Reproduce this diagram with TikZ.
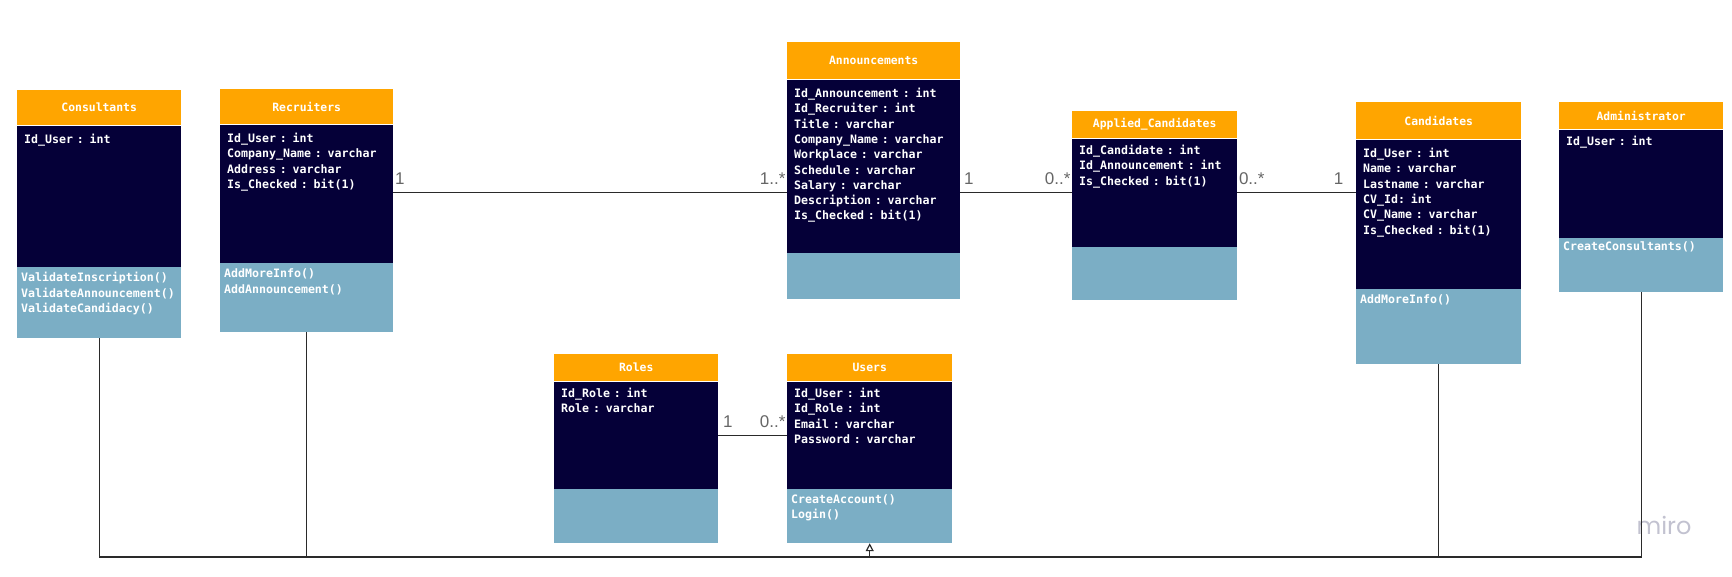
\documentclass[tikz,border=0pt]{standalone}
\usepackage{xcolor}
\usepackage{fontspec}
\setmonofont{DejaVu Sans Mono}
\newfontfamily\multfont{Liberation Sans}
\newfontfamily\mirofont{Poppins}
\usepackage{tikz}
\usetikzlibrary{arrows.meta,calc,positioning}
\definecolor{headorange}{HTML}{FFA500}
\definecolor{attrnavy}{HTML}{050038}
\definecolor{opsblue}{HTML}{7BAEC5}
\definecolor{linegray}{HTML}{2A2A2A}
\definecolor{multgray}{HTML}{666666}
\definecolor{mirogray}{HTML}{C2C2D0}
\tikzstyle{head} = [rectangle, fill=headorange, text=white, inner sep=0pt, anchor=north west,
  font={\ttfamily\bfseries\fontsize{11.4}{15.2}\selectfont}]
\tikzstyle{attrs} = [rectangle, fill=attrnavy, text=white, align=left, inner xsep=7pt, inner ysep=0pt,
  text height=18pt, font={\ttfamily\bfseries\fontsize{11.6}{15.3}\selectfont}]
\tikzstyle{ops} = [rectangle, fill=opsblue, text=white, align=left, inner xsep=4pt, inner ysep=0pt,
  text height=15pt, font={\ttfamily\bfseries\fontsize{11.6}{15.2}\selectfont}]
\tikzstyle{assoc} = [draw=linegray, line width=1.2pt]
\tikzstyle{inherit} = [draw=linegray, line width=1.2pt, -{Triangle[open, length=8pt, width=8pt]}]
\tikzstyle{mult} = [text=multgray, inner sep=1pt, yshift=6pt, font={\multfont\fontsize{17}{17}\selectfont}]

\begin{document}
\begin{tikzpicture}[x=1pt, y=-1pt]
    \useasboundingbox (0,0) rectangle (1732,577);
    % consultants
    \node [head, minimum width=164pt, minimum height=35pt] (cons) at (17,90) {Consultants};
    \node [attrs, below=0pt of cons, text width=150pt, text depth=123pt] (cons-attr)
      {Id\_User : int};
    \node [ops, below=0pt of cons-attr, text width=156pt, text depth=56pt] (cons-ops)
      {ValidateInscription()\\
        ValidateAnnouncement()\\
        ValidateCandidacy()};
    % recruiters
    \node [head, minimum width=173pt, minimum height=35pt] (recr) at (220,89) {Recruiters};
    \node [attrs, below=0pt of recr, text width=159pt, text depth=120pt] (recr-attr)
      {Id\_User : int\\
        Company\_Name : varchar\\
        Address : varchar\\
        Is\_Checked : bit(1)};
    \node [ops, below=0pt of recr-attr, text width=165pt, text depth=54pt] (recr-ops)
      {AddMoreInfo()\\
        AddAnnouncement()};
    % announcements
    \node [head, minimum width=173pt, minimum height=37pt] (ann) at (787,42) {Announcements};
    \node [attrs, below=0pt of ann, text width=159pt, text depth=155pt] (ann-attr)
      {Id\_Announcement : int\\
        Id\_Recruiter : int\\
        Title : varchar\\
        Company\_Name : varchar\\
        Workplace : varchar\\
        Schedule : varchar\\
        Salary : varchar\\
        Description : varchar\\
        Is\_Checked : bit(1)};
    \node [ops, below=0pt of ann-attr, text width=165pt, text depth=31pt] (ann-ops) {};
    % applied candidates
    \node [head, minimum width=165pt, minimum height=27pt] (app) at (1072,111) {Applied\_Candidates};
    \node [attrs, below=0pt of app, text width=151pt, text height=16pt, text depth=92pt] (app-attr)
      {Id\_Candidate : int\\
        Id\_Announcement : int\\
        Is\_Checked : bit(1)};
    \node [ops, below=0pt of app-attr, text width=157pt, text depth=38pt] (app-ops) {};
    % candidates
    \node [head, minimum width=165pt, minimum height=37pt] (cand) at (1356,102) {Candidates};
    \node [attrs, below=0pt of cand, text width=151pt, text depth=131pt] (cand-attr)
      {Id\_User : int\\
        Name : varchar\\
        Lastname : varchar\\
        CV\_Id: int\\
        CV\_Name : varchar\\
        Is\_Checked : bit(1)};
    \node [ops, below=0pt of cand-attr, text width=157pt, text depth=60pt] (cand-ops)
      {AddMoreInfo()};
    % administrator
    \node [head, minimum width=164pt, minimum height=27pt] (adm) at (1559,102) {Administrator};
    \node [attrs, below=0pt of adm, text width=150pt, text height=16pt, text depth=92pt] (adm-attr)
      {Id\_User : int};
    \node [ops, below=0pt of adm-attr, text width=156pt, text height=13pt, text depth=41pt] (adm-ops)
      {CreateConsultants()};
    % roles
    \node [head, minimum width=164pt, minimum height=27pt] (roles) at (554,354) {Roles};
    \node [attrs, below=0pt of roles, text width=150pt, text height=16pt, text depth=91pt] (roles-attr)
      {Id\_Role : int\\
        Role : varchar};
    \node [ops, below=0pt of roles-attr, text width=156pt, text depth=39pt] (roles-ops) {};
    % users
    \node [head, minimum width=165pt, minimum height=27pt] (users) at (787,354) {Users};
    \node [attrs, below=0pt of users, text width=151pt, text height=16pt, text depth=91pt] (users-attr)
      {Id\_User : int\\
        Id\_Role : int\\
        Email : varchar\\
        Password : varchar};
    \node [ops, below=0pt of users-attr, text width=157pt, text height=14pt, text depth=40pt] (users-ops)
      {CreateAccount()\\
        Login()};
    \node [text=mirogray, font={\mirofont\fontsize{24}{24}\selectfont}] (miro) at (1664,525) {miro};
    % associations
    \path [assoc] (recr-attr.east |- app-attr.west) -- (ann-attr.west |- app-attr.west)
      node [mult, pos=0, anchor=south west] (m-recr) {1}
      node [mult, pos=1, anchor=south east] (m-ann-recr) {1..*};
    \path [assoc] (ann-attr.east |- app-attr.west) -- (app-attr.west)
      node [mult, pos=0, anchor=south west, xshift=2pt] (m-ann-app) {1}
      node [mult, pos=1, anchor=south east] (m-app-ann) {0..*};
    \path [assoc] (app-attr.east) -- (app-attr.east -| cand-attr.west)
      node [mult, pos=0, anchor=south west] (m-app-cand) {0..*}
      node [mult, pos=1, anchor=south east, xshift=-11pt] (m-cand) {1};
    \path [assoc] (roles-attr.east) -- (roles-attr.east -| users-attr.west)
      node [mult, pos=0, anchor=south west, xshift=3pt] (m-roles) {1}
      node [mult, pos=1, anchor=south east] (m-users) {0..*};
    % generalisation to users
    \coordinate (bus) at (0,557);
    \path [assoc] (cons-ops.south) |- (bus -| adm-ops.south) -- (adm-ops.south);
    \path [assoc] (recr-ops.south) -- (recr-ops.south |- bus);
    \path [assoc] (cand-ops.south) -- (cand-ops.south |- bus);
    \path [inherit] (users-ops.south |- bus) -- (users-ops.south);
  \end{tikzpicture}
\end{document}
